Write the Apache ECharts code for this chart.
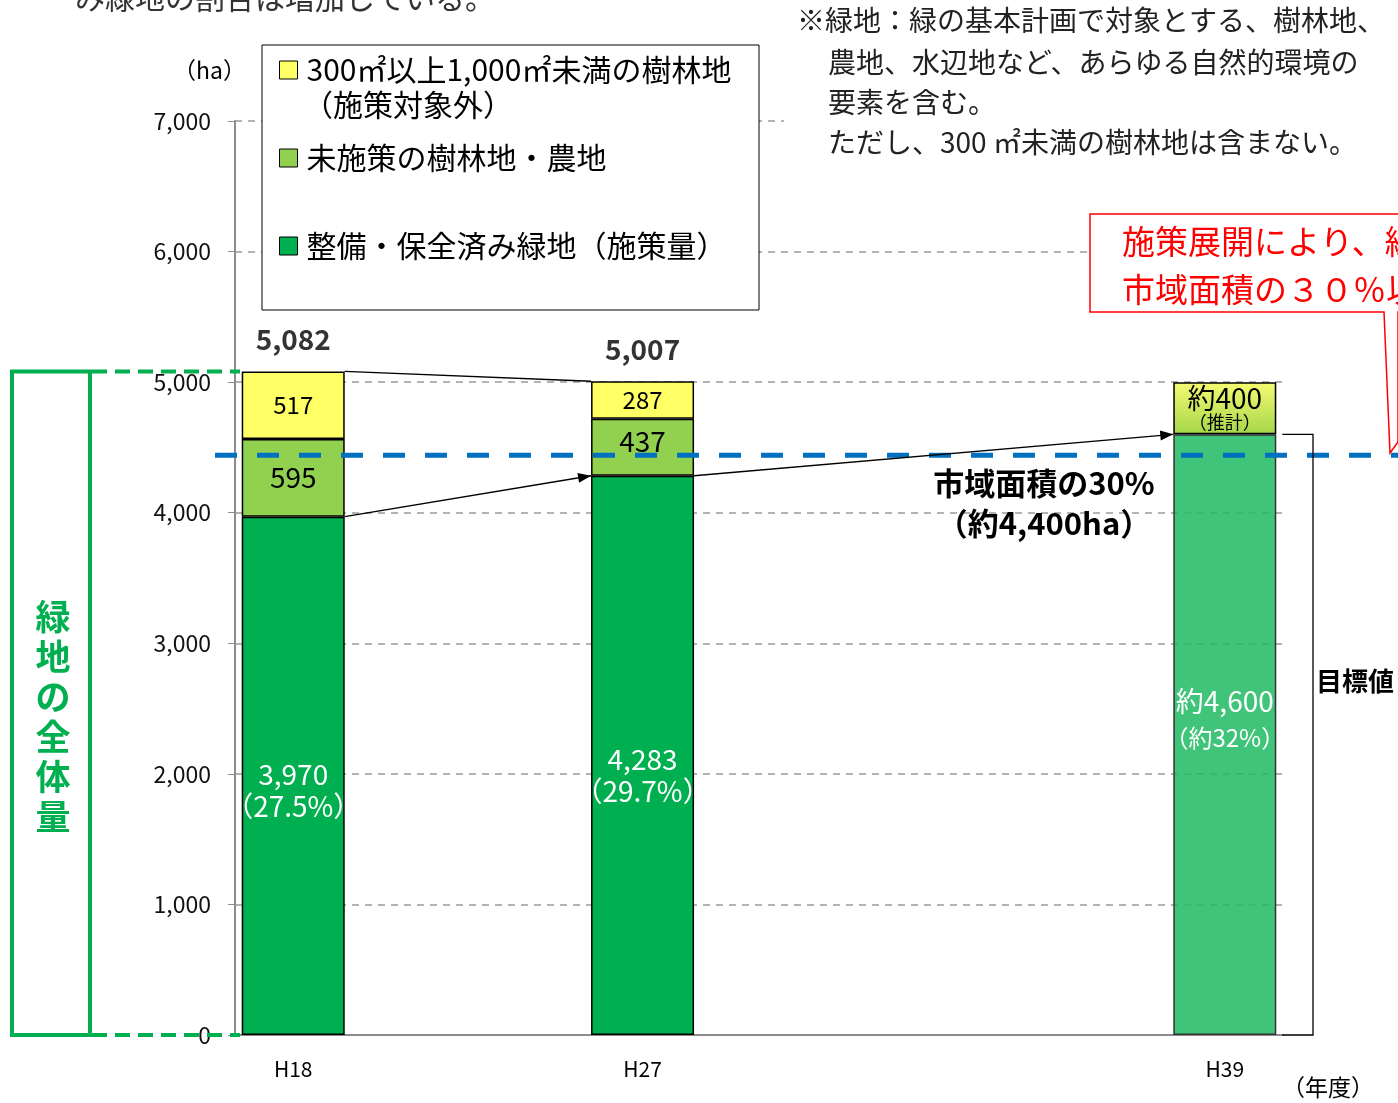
<!DOCTYPE html>
<html><head><meta charset="utf-8">
<script src="https://cdn.jsdelivr.net/npm/echarts@6/dist/echarts.min.js"></script>
<style>html,body{margin:0;padding:0;background:#fff}#c{width:1398px;height:1103px}</style>
</head><body><div id="c"></div>
<script>
// ---- data ----
const years = ['H18', 'H27', 'H39'];
const axisSlots = ['H18', '', '', 'H27', '', '', '', '', 'H39'];
const implemented = [3970, 4283, 4600];
const unimplemented = [595, 437, null];
const outside = [517, 287, 400];
const totals = [5082, 5007, null];
const implementedPct = ['27.5%', '29.7%', '約32%'];
const isEstimate = [false, false, true];
const cityTarget = 4440;   // drawn level of the "市域面積の30%（約4,400ha）" line
const yTicks = [0, 1000, 2000, 3000, 4000, 5000, 6000, 7000];
const seriesNames = ['整備・保全済み緑地（施策量）', '未施策の樹林地・農地', '300㎡以上1,000㎡未満の樹林地'];

const NS = '"Noto Sans CJK JP", "Noto Sans", sans-serif';
const fmt = v => v.toLocaleString('en-US');
const yi = s => years.indexOf(axisSlots[s]);
const slotData = arr => axisSlots.map((c, s) => yi(s) >= 0 ? arr[yi(s)] : null);

const chart = echarts.init(document.getElementById('c'));
const BW = 103;

const implData = slotData(implemented).map((v, s) => {
  const i = yi(s);
  if (v == null) return null;
  if (i >= 0 && isEstimate[i]) {
    return { value: v, itemStyle: { color: 'rgba(33,186,100,0.86)', borderColor: '#333' },
      label: { offset: [0, -16] } };
  }
  return { value: v, label: { offset: [0, i === 0 ? 15 : 20] } };
});
const unimpData = slotData(unimplemented).map((v, s) => {
  if (v == null) return null;
  return { value: v, label: { offset: [0, yi(s) === 1 ? -6 : 0] } };
});
const outData = slotData(outside).map((v, s) => {
  const i = yi(s);
  if (v == null) return null;
  if (i >= 0 && isEstimate[i]) {
    return { value: v, itemStyle: { color: { type: 'linear', x: 0, y: 0, x2: 0, y2: 1,
      colorStops: [{ offset: 0, color: '#F6FB72' }, { offset: 1, color: '#A4D64A' }] } } };
  }
  return v;
});

const option = {
  animation: false,
  grid: { left: 235, right: 115, top: 121, bottom: 68, containLabel: false },
  legend: {
    orient: 'vertical', left: 279, top: 50, padding: 0, itemWidth: 18, itemHeight: 18, itemGap: 48,
    icon: 'rect', selectedMode: false,
    data: [seriesNames[2], seriesNames[1], seriesNames[0]],
    itemStyle: { borderColor: '#000', borderWidth: 1 },
    textStyle: { fontFamily: NS, fontSize: 30, lineHeight: 40, color: '#000', padding: [0, 0, 0, 4] },
    z: 6
  },
  xAxis: {
    type: 'category', data: axisSlots,
    axisLine: { lineStyle: { color: '#8c8c8c', width: 2 } },
    axisTick: { show: false },
    axisLabel: { interval: 0, margin: 24, fontFamily: NS, fontSize: 21, color: '#000' }
  },
  yAxis: {
    type: 'value', min: 0, max: 7000, interval: 1000,
    axisLine: { show: true, lineStyle: { color: '#8c8c8c', width: 2 } },
    axisTick: { show: true, length: 7, lineStyle: { color: '#8c8c8c' } },
    axisLabel: { margin: 24, fontFamily: NS, fontSize: 23, color: '#111',
      formatter: v => yTicks.includes(v) ? fmt(v) : '' },
    splitLine: { lineStyle: { color: '#9a9a9a', type: [7, 6], width: 1.5 } }
  },
  series: [
    { name: seriesNames[0], type: 'bar', stack: 'g', barWidth: BW, data: implData,
      itemStyle: { color: '#00B050', borderColor: '#000', borderWidth: 1.5 },
      label: { show: true, position: 'inside', color: '#fff', fontFamily: NS, fontSize: 28, lineHeight: 32,
        formatter: p => {
          const i = yi(p.dataIndex);
          if (isEstimate[i]) return '{a|約' + fmt(implemented[i]) + '}\n{b|（' + implementedPct[i] + '）}';
          return fmt(implemented[i]) + '\n（' + implementedPct[i] + '）';
        },
        rich: { a: { fontFamily: NS, fontSize: 28, color: '#fff', lineHeight: 38 },
                b: { fontFamily: NS, fontSize: 24, color: '#fff', lineHeight: 34 } } } },
    { name: seriesNames[1], type: 'bar', stack: 'g', barWidth: BW, data: unimpData,
      itemStyle: { color: '#92D050', borderColor: '#000', borderWidth: 1.5 },
      label: { show: true, position: 'inside', color: '#000', fontFamily: NS, fontSize: 28,
        formatter: p => fmt(p.value) } },
    { name: seriesNames[2], type: 'bar', stack: 'g', barWidth: BW, data: outData,
      itemStyle: { color: '#FFFF66', borderColor: '#000', borderWidth: 1.5 },
      label: { show: true, position: 'inside', color: '#000', fontFamily: NS, fontSize: 24,
        formatter: p => {
          const i = yi(p.dataIndex);
          if (isEstimate[i]) return '{a|約' + fmt(outside[i]) + '}\n{b|（推計）}';
          return fmt(outside[i]);
        },
        rich: { a: { fontFamily: NS, fontSize: 28, color: '#000', lineHeight: 28 },
                b: { fontFamily: NS, fontSize: 18, color: '#000', lineHeight: 20 } } } },
    { name: 'total', type: 'scatter', symbolSize: 0, data: slotData(totals), z: 5,
      label: { show: true, position: 'top', distance: 18, color: '#000', fontFamily: NS,
        fontSize: 28, fontWeight: 'bold', formatter: p => fmt(p.value) } }
  ]
};
chart.setOption(option);

// ---- annotations derived from the axes ----
const px = (slot, v) => chart.convertToPixel({ xAxisIndex: 0, yAxisIndex: 0 }, [slot, v]);
const s0 = axisSlots.indexOf('H18'), s1 = axisSlots.indexOf('H27'), s2 = axisSlots.indexOf('H39');
const hw = BW / 2;
const g = [];
function arrow(p1, p2, head) {
  g.push({ type: 'line', z: 20, shape: { x1: p1[0], y1: p1[1], x2: p2[0], y2: p2[1] },
    style: { stroke: '#000', lineWidth: 1.3 } });
  if (head) {
    const a = Math.atan2(p2[1] - p1[1], p2[0] - p1[0]);
    const L = 13, W = 5;
    const bx = p2[0] - L * Math.cos(a), by = p2[1] - L * Math.sin(a);
    g.push({ type: 'polygon', z: 20, shape: { points: [p2,
      [bx + W * Math.sin(a), by - W * Math.cos(a)], [bx - W * Math.sin(a), by + W * Math.cos(a)]] },
      style: { fill: '#000' } });
  }
}
const t0 = px(s0, totals[0]), t1 = px(s1, totals[1]);
arrow([t0[0] + hw, t0[1]], [t1[0] - hw, t1[1]], false);
const i0 = px(s0, implemented[0]), i1 = px(s1, implemented[1]), i2 = px(s2, implemented[2]);
arrow([i0[0] + hw, i0[1]], [i1[0] - hw, i1[1]], true);
arrow([i1[0] + hw, i1[1]], [i2[0] - hw, i2[1]], true);

// blue 30% line
const yT = px(s0, cityTarget)[1];
g.push({ type: 'line', z: 19, shape: { x1: 215, y1: yT, x2: 1400, y2: yT },
  style: { stroke: '#0070C0', lineWidth: 5, lineDash: [22, 20] } });
g.push({ type: 'text', z: 21, x: 1044, y: yT + 8, style: { text: '市域面積の30%\n（約4,400ha）',
  font: 'bold 31px ' + NS, fill: '#000', textAlign: 'center', align: 'center', lineHeight: 40 } });

// target bracket
const yBase = px(s2, 0)[1];
g.push({ type: 'polyline', z: 20, shape: { points: [[i2[0] + hw + 6, i2[1]], [1313, i2[1]], [1313, yBase], [i2[0] + hw + 6, yBase]] },
  style: { stroke: '#000', lineWidth: 1.3, fill: null } });
g.push({ type: 'text', z: 21, x: 1316, y: 668, style: { text: '目標値', font: 'bold 26px ' + NS, fill: '#000' } });

// left green box
const yTop = t0[1];
g.push({ type: 'rect', z: 20, shape: { x: 12, y: yTop, width: 78, height: yBase - yTop },
  style: { stroke: '#00B050', lineWidth: 4, fill: null } });
g.push({ type: 'line', z: 20, shape: { x1: 92, y1: yTop, x2: 240, y2: yTop },
  style: { stroke: '#00B050', lineWidth: 4, lineDash: [15, 8] } });
g.push({ type: 'line', z: 20, shape: { x1: 92, y1: yBase, x2: 240, y2: yBase },
  style: { stroke: '#00B050', lineWidth: 4, lineDash: [15, 8] } });
g.push({ type: 'text', z: 21, x: 53, y: 597, style: { text: '緑\n地\nの\n全\n体\n量',
  font: 'bold 35px ' + NS, fill: '#00B050', textAlign: 'center', align: 'center', lineHeight: 40 } });

// legend box
g.push({ type: 'rect', z: 3, shape: { x: 262, y: 45, width: 497, height: 265 },
  style: { stroke: '#000', lineWidth: 1, fill: '#fff' } });
g.push({ type: 'text', z: 7, x: 303, y: 90, style: { text: '（施策対象外）', font: '30px ' + NS, fill: '#000' } });

// notes box
g.push({ type: 'rect', z: 3, shape: { x: 784, y: 0, width: 620, height: 166 }, style: { fill: '#fff' } });
g.push({ type: 'text', z: 7, x: 797, y: 6, style: { text: '※緑地：緑の基本計画で対象とする、樹林地、', font: '28px ' + NS, fill: '#222' } });
g.push({ type: 'text', z: 7, x: 828, y: 42, style: { text: '農地、水辺地など、あらゆる自然的環境の\n要素を含む。\nただし、300 ㎡未満の樹林地は含まない。',
  font: '28px ' + NS, fill: '#222', lineHeight: 40 } });

// red callout
g.push({ type: 'polygon', z: 3, shape: { points: [[1090, 214], [1402, 214], [1402, 312], [1398, 312], [1398, 442], [1390, 453], [1384, 312], [1090, 312]] },
  style: { stroke: '#FF0000', lineWidth: 1.5, fill: '#fff' } });
g.push({ type: 'text', z: 7, x: 1122, y: 217, style: { text: '施策展開により、緑\n市域面積の３０％以',
  font: '33px ' + NS, fill: '#FF0000', lineHeight: 48 } });

// misc text
g.push({ type: 'text', z: 7, x: 75, y: -17, style: { text: 'み緑地の割合は増加している。', font: '30px ' + NS, fill: '#333' } });
g.push({ type: 'text', z: 7, x: 246, y: 70, style: { text: '（ha）', font: '23px ' + NS, fill: '#000', textAlign: 'right', align: 'right', textVerticalAlign: 'middle', verticalAlign: 'middle' } });
g.push({ type: 'text', z: 7, x: 1328, y: 1087, style: { text: '（年度）', font: '23px ' + NS, fill: '#000', textAlign: 'center', align: 'center', textVerticalAlign: 'middle', verticalAlign: 'middle' } });

chart.setOption({ graphic: g });
</script></body></html>
